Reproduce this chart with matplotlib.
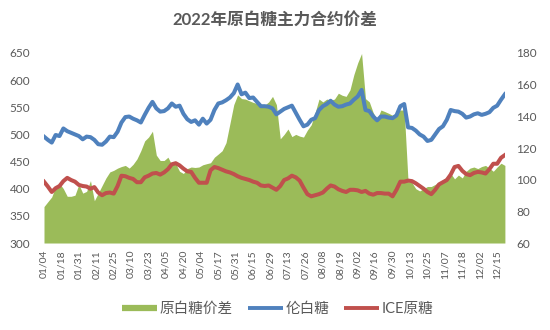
import matplotlib.pyplot as plt
from matplotlib.lines import Line2D
import numpy as np

plt.rcParams['font.family'] = ['Lato', 'Noto Sans CJK SC', 'DejaVu Sans']

# dados, um valor a cada 2 pregões (01/04 até ~12/21)
dia = np.arange(0, 239, 2)

# 伦白糖 (eixo esquerdo)
lon_white = [496, 490, 485, 499, 497, 511, 506, 503, 500, 497,
             491, 496, 495, 490, 482, 481, 487, 496, 495, 505,
             522, 532, 533, 529, 526, 522, 536, 549, 560, 548,
             542, 543, 548, 557, 551, 553, 538, 528, 523, 526,
             518, 529, 520, 527, 545, 557, 559, 563, 568, 576,
             592, 574, 577, 567, 568, 560, 552, 552, 551, 548,
             537, 542, 547, 550, 553, 540, 527, 515, 518, 527,
             530, 545, 552, 556, 562, 555, 551, 552, 555, 557,
             564, 570, 582, 545, 543, 533, 526, 533, 533, 531,
             530, 535, 552, 556, 513, 512, 507, 500, 496, 488,
             490, 500, 510, 515, 527, 545, 543, 542, 538, 531,
             533, 537, 539, 536, 538, 541, 549, 553, 564, 574]

# ICE原糖 (eixo esquerdo)
ice_raw = [413, 404, 394, 401, 405, 414, 420, 416, 413, 407,
           405, 404, 400, 403, 393, 388, 392, 393, 391, 405,
           424, 423, 420, 418, 412, 412, 421, 424, 428, 429,
           426, 430, 436, 445, 447, 443, 437, 432, 431, 420,
           411, 411, 411, 434, 440, 438, 435, 432, 430, 427,
           423, 420, 418, 416, 413, 411, 406, 405, 406, 402,
           398, 405, 416, 419, 424, 421, 415, 402, 390, 386,
           388, 390, 393, 400, 406, 404, 399, 396, 394, 398,
           398, 397, 394, 396, 391, 389, 392, 392, 391, 391,
           386, 398, 413, 413, 415, 414, 410, 405, 400, 394,
           390, 398, 408, 412, 416, 426, 440, 442, 433, 427,
           425, 429, 431, 430, 428, 436, 446, 446, 457, 462]

# 原白糖价差 (eixo direito)
spread = [83.0, 86.1, 89.1, 95.7, 97.7, 94.3, 89.5, 89.5, 90.2, 97.0,
          91.5, 92.6, 99.4, 86.7, 91.5, 96.3, 101.1, 104.9, 105.9, 107.3,
          108.3, 109.0, 107.3, 109.7, 113.1, 118.3, 124.5, 126.9, 130.6, 115.5,
          112.1, 112.1, 114.2, 109.4, 110.1, 105.3, 103.9, 107.0, 108.0, 107.7,
          108.0, 109.4, 110.1, 110.7, 114.2, 116.2, 118.3, 123.4, 135.4, 147.4,
          153.6, 151.2, 150.9, 149.8, 148.8, 148.1, 147.4, 147.1, 149.1, 152.6,
          147.4, 125.8, 128.6, 132.0, 127.2, 128.6, 127.5, 126.9, 131.3, 134.7,
          142.3, 150.9, 149.1, 150.9, 150.2, 150.9, 154.6, 153.3, 152.6, 156.7,
          166.3, 173.8, 179.7, 151.2, 149.1, 142.3, 138.2, 144.0, 143.0, 141.9,
          140.6, 142.3, 144.0, 144.0, 98.7, 98.1, 94.3, 92.9, 94.3, 95.7,
          95.7, 97.0, 98.4, 99.8, 101.8, 103.9, 100.5, 102.9, 101.1, 105.3,
          107.3, 108.0, 107.0, 108.3, 109.0, 107.3, 105.3, 108.0, 110.4, 109.0]

datas = ['01/04', '01/18', '01/31', '02/11', '02/25', '03/10', '03/23',
         '04/05', '04/20', '05/04', '05/17', '05/31', '06/15', '06/29',
         '07/13', '07/26', '08/08', '08/19', '09/02', '09/16', '09/30',
         '10/13', '10/25', '11/07', '11/18', '12/02', '12/15']
pos_datas = np.arange(len(datas)) * 9

verde = '#9BBB59'
azul = '#4F81BD'
vermelho = '#C0504D'
cinza = '#595959'

fig = plt.figure(figsize=(5.5, 3.3), dpi=100)
ax = fig.add_axes([0.08, 0.2636, 0.838, 0.5758])
ax2 = ax.twinx()

ax2.fill_between(dia, 60, spread, color=verde, linewidth=0)
ax.plot(dia, lon_white, color=azul, lw=2.9)
ax.plot(dia, ice_raw, color=vermelho, lw=2.9)

# linhas por cima da área
ax.set_zorder(ax2.get_zorder() + 1)
ax.patch.set_visible(False)

ax.set_xlim(0, 238)
ax.set_ylim(300, 650)
ax2.set_ylim(60, 180)
ax.set_yticks(range(300, 651, 50))
ax2.set_yticks(range(60, 181, 20))
ax.set_xticks(pos_datas)
ax.set_xticklabels(datas, rotation=90)

for a in (ax, ax2):
    for s in a.spines.values():
        s.set_visible(False)
    a.tick_params(length=0, colors=cinza)
ax.tick_params(axis='y', pad=10, labelsize=8.5)
ax2.tick_params(axis='y', pad=8, labelsize=8.5)
ax.tick_params(axis='x', pad=5, labelsize=7.5)

fig.text(0.5, 0.94, '2022年原白糖主力合约价差', ha='center', va='center',
         fontsize=12, fontweight='bold', color=cinza)

handles = [Line2D([], [], color=verde, lw=4.5, solid_capstyle='butt'),
           Line2D([], [], color=azul, lw=2.8, solid_capstyle='butt'),
           Line2D([], [], color=vermelho, lw=2.8, solid_capstyle='butt')]
leg = fig.legend(handles, ['原白糖价差', '伦白糖', 'ICE原糖'], ncol=3,
                 loc='center', bbox_to_anchor=(0.505, 0.064), frameon=False,
                 fontsize=10.5, handlelength=2.4, handletextpad=0.2,
                 columnspacing=1.0)
for t in leg.get_texts():
    t.set_color(cinza)

fig.savefig('out.png')
